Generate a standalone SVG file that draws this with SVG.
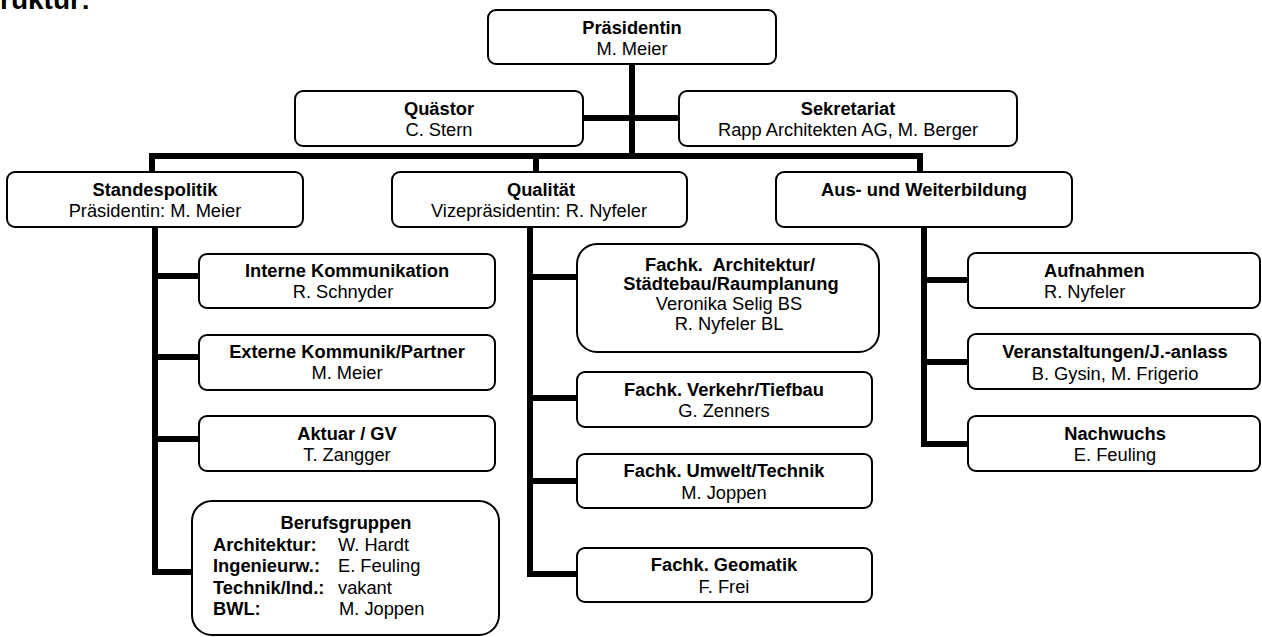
<svg xmlns="http://www.w3.org/2000/svg" width="1262" height="637" viewBox="0 0 1262 637">
<style>
  text { font-family: "Liberation Sans", Arial, sans-serif; font-size: 18.3px; fill: #000; }
  .b { font-weight: bold; }
  .c { text-anchor: middle; }
  .box { fill: #fff; stroke: #000; stroke-width: 2; }
  .con { fill: none; stroke: #000; stroke-width: 6; stroke-linejoin: miter; stroke-linecap: butt; }
  .title { font-size: 28px; font-weight: bold; }
</style>
<rect width="1262" height="637" fill="#fff"/>
<text class="title" x="0" y="9">ruktur:</text>

<g id="connectors">
  <path class="con" d="M632,64 V159"/>
  <path class="con" d="M583,118 H679"/>
  <path class="con" d="M152,172 V156 H920 V172"/>
  <path class="con" d="M536,156 V172"/>
  <path class="con" d="M155,227 V572 H192"/>
  <path class="con" d="M155,276 H199"/>
  <path class="con" d="M155,357 H199"/>
  <path class="con" d="M155,439 H199"/>
  <path class="con" d="M530,227 V574 H577"/>
  <path class="con" d="M530,277 H577"/>
  <path class="con" d="M530,398 H577"/>
  <path class="con" d="M530,481 H577"/>
  <path class="con" d="M924,227 V444 H968"/>
  <path class="con" d="M924,280 H968"/>
  <path class="con" d="M924,362 H968"/>
</g>

<g id="praesidentin">
  <rect class="box" x="488" y="10" width="288" height="54" rx="8"/>
  <text class="b c" x="632" y="34">Präsidentin</text>
  <text class="c" x="632" y="55">M. Meier</text>
</g>
<g id="quaestor">
  <rect class="box" x="295" y="91" width="288" height="55" rx="8"/>
  <text class="b c" x="439" y="115">Quästor</text>
  <text class="c" x="439" y="136">C. Stern</text>
</g>
<g id="sekretariat">
  <rect class="box" x="679" y="91" width="338" height="55" rx="8"/>
  <text class="b c" x="848" y="115">Sekretariat</text>
  <text class="c" x="848" y="136">Rapp Architekten AG, M. Berger</text>
</g>

<g id="standespolitik">
  <rect class="box" x="7" y="172" width="296" height="55" rx="8"/>
  <text class="b c" x="155" y="196">Standespolitik</text>
  <text class="c" x="155" y="217">Präsidentin: M. Meier</text>
</g>
<g id="qualitaet">
  <rect class="box" x="392" y="172" width="295" height="55" rx="8"/>
  <text class="b c" x="541" y="196">Qualität</text>
  <text class="c" x="539" y="217">Vizepräsidentin: R. Nyfeler</text>
</g>
<g id="ausbildung">
  <rect class="box" x="776" y="172" width="296" height="55" rx="8"/>
  <text class="b c" x="924" y="196">Aus- und Weiterbildung</text>
</g>

<g id="interne">
  <rect class="box" x="199" y="254" width="296" height="54" rx="8"/>
  <text class="b c" x="347" y="277">Interne Kommunikation</text>
  <text class="c" x="343" y="298">R. Schnyder</text>
</g>
<g id="externe">
  <rect class="box" x="199" y="335" width="296" height="55" rx="8"/>
  <text class="b c" x="347" y="358">Externe Kommunik/Partner</text>
  <text class="c" x="347" y="379">M. Meier</text>
</g>
<g id="aktuar">
  <rect class="box" x="199" y="416" width="296" height="55" rx="8"/>
  <text class="b c" x="347" y="440">Aktuar / GV</text>
  <text class="c" x="347" y="461">T. Zangger</text>
</g>
<g id="berufsgruppen">
  <rect class="box" x="192" y="501" width="307" height="134" rx="20"/>
  <text class="b c" x="346" y="529">Berufsgruppen</text>
  <text class="b" x="213" y="551">Architektur:</text>
  <text x="338" y="551">W. Hardt</text>
  <text class="b" x="213" y="572">Ingenieurw.:</text>
  <text x="338" y="572">E. Feuling</text>
  <text class="b" x="213" y="594">Technik/Ind.:</text>
  <text x="338" y="594">vakant</text>
  <text class="b" x="213" y="615">BWL:</text>
  <text x="339" y="615">M. Joppen</text>
</g>

<g id="fachk-architektur">
  <rect class="box" x="577" y="244" width="302" height="108" rx="20"/>
  <text class="b c" x="730" y="271" style="white-space:pre">Fachk.  Architektur/</text>
  <text class="b c" x="731" y="290">Städtebau/Raumplanung</text>
  <text class="c" x="729" y="310">Veronika Selig BS</text>
  <text class="c" x="729" y="330">R. Nyfeler BL</text>
</g>
<g id="fachk-verkehr">
  <rect class="box" x="577" y="372" width="295" height="55" rx="8"/>
  <text class="b c" x="724" y="396">Fachk. Verkehr/Tiefbau</text>
  <text class="c" x="724" y="417">G. Zenners</text>
</g>
<g id="fachk-umwelt">
  <rect class="box" x="577" y="454" width="295" height="54" rx="8"/>
  <text class="b c" x="724" y="477">Fachk. Umwelt/Technik</text>
  <text class="c" x="724" y="499">M. Joppen</text>
</g>
<g id="fachk-geomatik">
  <rect class="box" x="577" y="548" width="295" height="54" rx="8"/>
  <text class="b c" x="724" y="571">Fachk. Geomatik</text>
  <text class="c" x="724" y="593">F. Frei</text>
</g>

<g id="aufnahmen">
  <rect class="box" x="968" y="253" width="292" height="55" rx="8"/>
  <text class="b" x="1044" y="277">Aufnahmen</text>
  <text x="1044" y="298">R. Nyfeler</text>
</g>
<g id="veranstaltungen">
  <rect class="box" x="968" y="334" width="292" height="55" rx="8"/>
  <text class="b c" x="1115" y="358">Veranstaltungen/J.-anlass</text>
  <text class="c" x="1115" y="380">B. Gysin, M. Frigerio</text>
</g>
<g id="nachwuchs">
  <rect class="box" x="968" y="416" width="292" height="55" rx="8"/>
  <text class="b c" x="1115" y="440">Nachwuchs</text>
  <text class="c" x="1115" y="461">E. Feuling</text>
</g>
</svg>
